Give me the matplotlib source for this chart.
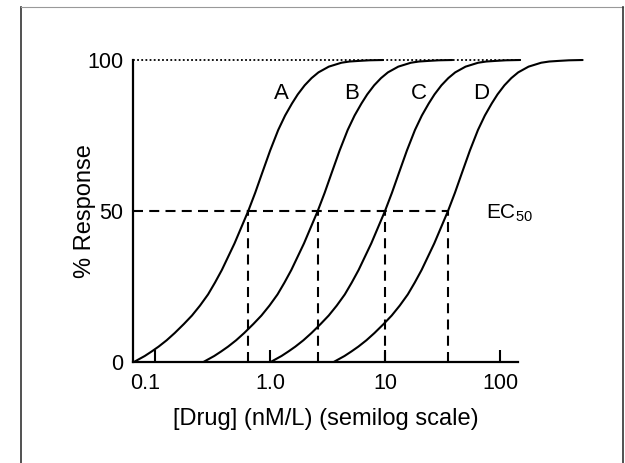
import matplotlib
matplotlib.use("Agg")
import matplotlib.pyplot as plt
import matplotlib.transforms as mtransforms
from matplotlib.lines import Line2D
import numpy as np

plt.rcParams['font.family'] = ['Liberation Sans', 'DejaVu Sans']

# EC50 de cada curva (nM/L)
names = ['A', 'B', 'C', 'D']
ec50 = [0.647, 2.60, 10.0, 35.3]

# forma comun de las curvas: desplazamiento en decadas respecto del EC50 y % respuesta
offset_dec = [-0.99, -0.90, -0.84, -0.78, -0.71, -0.64, -0.56, -0.49, -0.42, -0.35,
              -0.29, -0.23, -0.12, -0.06, 0.0, 0.06, 0.12, 0.19, 0.26, 0.32,
              0.38, 0.43, 0.49, 0.55, 0.61, 0.70, 0.81, 0.88, 0.96, 1.05, 1.17]
response = [0, 1.9, 3.4, 5.0, 7.1, 9.5, 12.5, 15.3, 18.6, 22.3,
            26.2, 30.4, 39.2, 44.6, 50, 56.0, 62.5, 70.0, 76.8, 81.6,
            85.6, 88.6, 91.6, 94.0, 95.9, 97.8, 99.1, 99.5, 99.7, 99.9, 100]

x_ticks = [0.1, 1.0, 10, 100]
x_tick_labels = ['0.1', '1.0', '10', '100']
y_ticks = [0, 50, 100]
dotted_end = 155  # hasta donde llega la linea punteada del 100%

fig = plt.figure(figsize=(6.25, 4.63), dpi=100)
ax = fig.add_axes([0.2133, 0.2188, 0.6155, 0.6516])
ax.set_xscale('log')
ax.set_xlim(10 ** -1.189, 10 ** 2.156)
ax.set_ylim(0, 100)
x0 = ax.get_xlim()[0]

# curvas dosis-respuesta
for name, ec in zip(names, ec50):
    xs = ec * 10 ** np.array(offset_dec)
    ax.plot(xs, response, color='black', lw=1.5, clip_on=False,
            solid_joinstyle='round', solid_capstyle='round', zorder=3)
    ax.annotate(name, xy=(ec, 89), xytext=(24, 0), textcoords='offset points',
                ha='center', va='center', fontsize=16)

# lineas guia
ax.plot([x0, dotted_end], [100, 100], color='black', lw=1.3,
        linestyle=(0, (1, 1.3)), clip_on=False, zorder=2)
ax.plot([x0, ec50[-1]], [50, 50], color='black', lw=1.5,
        dashes=(4.8, 3), zorder=2)
for ec in ec50:
    ax.plot([ec, ec], [0, 50], color='black', lw=1.5, dashes=(4.8, 3), zorder=2)

ax.text(75.5, 49.3, r'EC$_{\mathregular{50}}$', fontsize=15, ha='left', va='center')

ax.set_xticks(x_ticks)
ax.set_xticklabels(x_tick_labels)
ax.xaxis.set_minor_locator(matplotlib.ticker.NullLocator())
ax.set_yticks(y_ticks)
ax.tick_params(axis='x', direction='in', length=8.6, width=1.5, pad=8, labelsize=15.5)
ax.tick_params(axis='y', length=0, pad=7, labelsize=15.5)

# la etiqueta 0.1 esta corrida a la izquierda en el original
lab = ax.get_xticklabels()[0]
lab.set_transform(lab.get_transform() + mtransforms.ScaledTranslation(-10 / 100, 0, fig.dpi_scale_trans))

for s in ['top', 'right']:
    ax.spines[s].set_visible(False)
for s in ['left', 'bottom']:
    ax.spines[s].set_linewidth(1.6)

ax.set_ylabel('% Response', fontsize=17)
ax.set_xlabel('[Drug] (nM/L) (semilog scale)', fontsize=17, labelpad=10)
ax.yaxis.set_label_coords(-0.097, 0.5)

# marco de la figura
W, H = 625, 463
fig.add_artist(Line2D([21 / W, 21 / W], [0, 1 - 7 / H], color='#333333', lw=1.2))
fig.add_artist(Line2D([21 / W, 623 / W], [1 - 7 / H, 1 - 7 / H], color='#999999', lw=0.8))
fig.add_artist(Line2D([623 / W, 623 / W], [0, 1 - 7 / H], color='#333333', lw=1.2))

fig.savefig('out.png', dpi=100)
